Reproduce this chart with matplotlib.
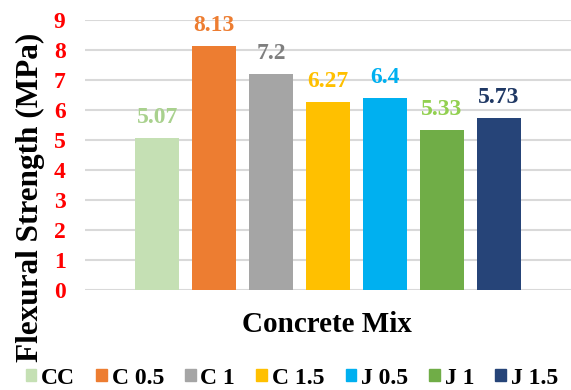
import matplotlib
matplotlib.use("Agg")
import matplotlib.pyplot as plt
from matplotlib.patches import Patch

plt.rcParams['font.family'] = ['Liberation Serif', 'DejaVu Serif']
plt.rcParams['font.weight'] = 'bold'

mixes = ['CC', 'C 0.5', 'C 1', 'C 1.5', 'J 0.5', 'J 1', 'J 1.5']
strength = [5.07, 8.13, 7.2, 6.27, 6.4, 5.33, 5.73]
bar_colors = ['#c5e0b4', '#ed7d31', '#a5a5a5', '#ffc000', '#00b0f0', '#70ad47', '#264478']
label_colors = ['#a9d18e', '#ed7d31', '#7f7f7f', '#ffc000', '#00b0f0', '#92d050', '#1f3864']
yticks = [0, 1, 2, 3, 4, 5, 6, 7, 8, 9]

fig = plt.figure(figsize=(5.71, 3.9), dpi=100)
ax = fig.add_axes([0.1489, 0.2564, 0.8511, 0.6923])

xs = list(range(len(mixes)))
ax.bar(xs, strength, width=0.78, color=bar_colors, zorder=3)
for x, v, c in zip(xs, strength, label_colors):
    ax.text(x, v + 0.5, f'{v:g}', ha='center', va='baseline', color=c,
            fontsize=17, fontweight='bold')

ax.set_xlim(-1.27, 7.27)
ax.set_ylim(0, 9)
ax.set_yticks(yticks)
ax.set_yticklabels([str(t) for t in yticks], color='red', fontsize=17, fontweight='bold')
ax.set_xticks([])
ax.tick_params(axis='y', length=0, pad=14)
ax.yaxis.grid(True, color='#d9d9d9', linewidth=1.5, zorder=0)
for s in ax.spines.values():
    s.set_visible(False)

fig.text(30 / 571, 1 - 197 / 390, 'Flexural Strength (MPa)', rotation=90,
         ha='center', va='center', fontsize=22.5, fontweight='bold')
fig.text(0.573, 1 - 325 / 390, 'Concrete Mix', ha='center', va='center',
         fontsize=21, fontweight='bold')

handles = [Patch(color=c) for c in bar_colors]
fig.legend(handles, mixes, loc='center', bbox_to_anchor=(0.511, 1 - 378 / 390), ncol=7,
           frameon=False, prop={'size': 17, 'weight': 'bold'},
           handlelength=0.45, handleheight=0.45, handletextpad=0.2,
           columnspacing=0.9, borderpad=0, borderaxespad=0)

fig.savefig('out.png', dpi=100)
